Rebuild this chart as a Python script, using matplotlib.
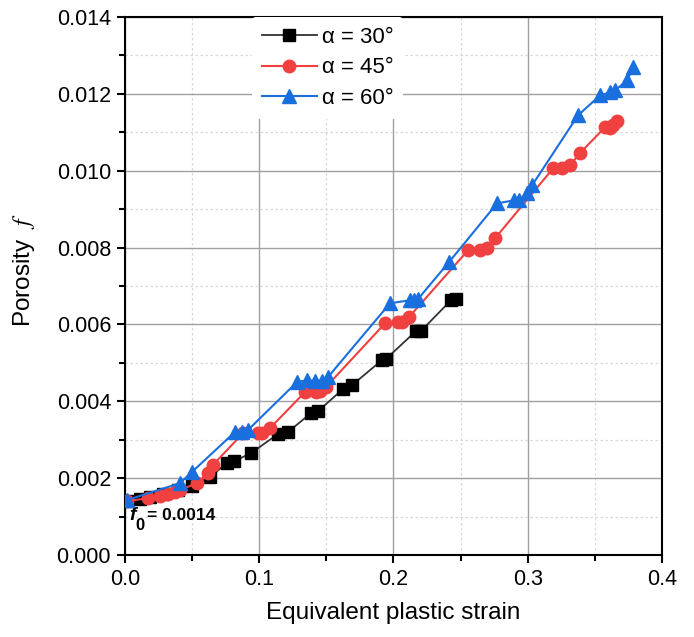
import matplotlib.pyplot as plt
from matplotlib.ticker import MultipleLocator, FormatStrFormatter

plt.rcParams['font.family'] = ['Liberation Sans', 'DejaVu Sans']
plt.rcParams['mathtext.fontset'] = 'stix'

# alpha = 30 deg
x30 = [0.0015, 0.0112, 0.0186, 0.0283, 0.0395, 0.0499, 0.0633, 0.0760, 0.0812, 0.0939,
       0.1140, 0.1214, 0.1385, 0.1437, 0.1624, 0.1691, 0.1914, 0.1944, 0.2168, 0.2205,
       0.2428, 0.2466]
f30 = [0.00140, 0.00146, 0.00151, 0.00159, 0.00169, 0.00179, 0.00203, 0.00239, 0.00244, 0.00265,
       0.00315, 0.00320, 0.00369, 0.00374, 0.00432, 0.00442, 0.00507, 0.00510, 0.00583, 0.00583,
       0.00663, 0.00666]

# alpha = 45 deg
x45 = [0.0015, 0.0171, 0.0261, 0.0320, 0.0372, 0.0410, 0.0536, 0.0618, 0.0655, 0.0879,
       0.0991, 0.1020, 0.1080, 0.1341, 0.1423, 0.1453, 0.1497, 0.1937, 0.2034, 0.2063,
       0.2115, 0.2555, 0.2644, 0.2696, 0.2756, 0.3188, 0.3255, 0.3315, 0.3389, 0.3575,
       0.3613, 0.3635, 0.3665]
f45 = [0.00140, 0.00148, 0.00153, 0.00159, 0.00164, 0.00169, 0.00187, 0.00213, 0.00234, 0.00317,
       0.00317, 0.00317, 0.00330, 0.00424, 0.00424, 0.00427, 0.00437, 0.00603, 0.00606, 0.00606,
       0.00619, 0.00793, 0.00793, 0.00798, 0.00824, 0.01006, 0.01006, 0.01014, 0.01046, 0.01113,
       0.01111, 0.01118, 0.01129]

# alpha = 60 deg
x60 = [0.0015, 0.0410, 0.0499, 0.0819, 0.0872, 0.0916, 0.1281, 0.1356, 0.1415, 0.1467,
       0.1512, 0.1974, 0.2123, 0.2153, 0.2182, 0.2413, 0.2771, 0.2898, 0.2935, 0.2994,
       0.3032, 0.3374, 0.3538, 0.3613, 0.3650, 0.3739, 0.3784]
f60 = [0.00143, 0.00187, 0.00216, 0.00320, 0.00320, 0.00325, 0.00450, 0.00455, 0.00453, 0.00453,
       0.00463, 0.00655, 0.00663, 0.00663, 0.00666, 0.00762, 0.00915, 0.00923, 0.00923, 0.00941,
       0.00962, 0.01144, 0.01196, 0.01204, 0.01209, 0.01235, 0.01269]

fig = plt.figure(figsize=(6.94, 6.37), dpi=100)
ax = fig.add_axes([0.180, 0.1287, 0.774, 0.8446])

ax.plot(x30, f30, color="#333333", lw=1.3, marker="s", ms=8,
        mfc="black", mec="black", label="α = 30°", zorder=3)
ax.plot(x45, f45, color="#f14040", lw=1.5, marker="o", ms=9,
        mfc="#f14040", mec="#f14040", label="α = 45°", zorder=4)
ax.plot(x60, f60, color="#1a6fdf", lw=1.5, marker="^", ms=10,
        mfc="#1a6fdf", mec="#1a6fdf", label="α = 60°", zorder=5)

ax.set_xlim(0, 0.4)
ax.set_ylim(0, 0.014)
ax.xaxis.set_major_locator(MultipleLocator(0.1))
ax.xaxis.set_minor_locator(MultipleLocator(0.05))
ax.yaxis.set_major_locator(MultipleLocator(0.002))
ax.yaxis.set_minor_locator(MultipleLocator(0.001))
ax.xaxis.set_major_formatter(FormatStrFormatter("%.1f"))
ax.yaxis.set_major_formatter(FormatStrFormatter("%.3f"))

ax.grid(which="major", color="#a0a0a0", lw=1.0, ls="-", zorder=0)
ax.grid(which="minor", color="#d8d8d8", lw=0.9, ls=(0, (2, 2)), zorder=0)
ax.set_axisbelow(True)

for s in ax.spines.values():
    s.set_linewidth(1.5)
ax.tick_params(which="major", direction="out", length=6, width=1.5, labelsize=15.5, pad=4)
ax.tick_params(which="minor", direction="out", length=4, width=1.5)

ax.set_xlabel("Equivalent plastic strain", fontsize=17.5, labelpad=9)
ax.set_ylabel(r"Porosity  $f$", fontsize=17.5)
ax.yaxis.set_label_coords(-0.164, 0.53)

leg = ax.legend(loc="upper left", bbox_to_anchor=(0.236, 1.0), borderaxespad=0,
                frameon=True, facecolor="white", edgecolor="none", framealpha=1,
                fontsize=16, handlelength=2.5, handletextpad=0.2,
                labelspacing=0.42, borderpad=0.45)
leg.set_zorder(6)

# f0 annotation
ax.text(0.0035, 0.00091, "f", fontsize=14, fontweight="bold", style="italic",
        va="baseline", ha="left")
ax.text(0.0075, 0.00066, "0", fontsize=12, fontweight="bold", va="baseline", ha="left")
ax.text(0.0165, 0.00091, "= 0.0014", fontsize=12.5, fontweight="bold", va="baseline", ha="left")

fig.savefig("out.png", dpi=100)
